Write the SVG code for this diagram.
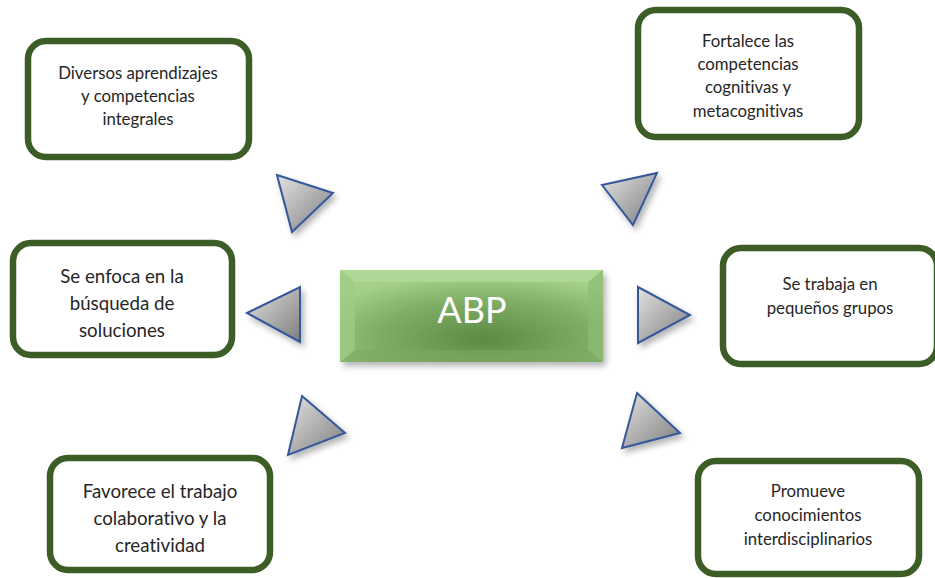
<svg xmlns="http://www.w3.org/2000/svg" width="935" height="578" viewBox="0 0 935 578">
<defs>
<style>
.box{fill:#ffffff;stroke:#3c5d25;stroke-width:6.5}
.t{font-family:Lato,"Liberation Sans",sans-serif;fill:#262626;text-anchor:middle;font-variant-ligatures:none;font-feature-settings:"liga" 0,"clig" 0,"dlig" 0,"calt" 0}
.tri{fill:url(#gtri);stroke:#34589a;stroke-width:2;stroke-linejoin:miter;filter:url(#sh)}
</style>
<linearGradient id="gtri" x1="0" y1="0" x2="1" y2="1">
<stop offset="0" stop-color="#e2e2e2"/>
<stop offset="1" stop-color="#7e7e7e"/>
</linearGradient>
<radialGradient id="gabp" cx="0.55" cy="0.75" r="0.7">
<stop offset="0" stop-color="#5c8a45"/>
<stop offset="0.6" stop-color="#80ae66"/>
<stop offset="1" stop-color="#a4d08a"/>
</radialGradient>
<filter id="sh" x="-30%" y="-30%" width="170%" height="170%">
<feGaussianBlur in="SourceAlpha" stdDeviation="3"/>
<feOffset dx="3" dy="4" result="b"/>
<feComponentTransfer><feFuncA type="linear" slope="0.3"/></feComponentTransfer>
<feMerge><feMergeNode/><feMergeNode in="SourceGraphic"/></feMerge>
</filter>
</defs>
<rect width="935" height="578" fill="#ffffff"/>

<g id="connectors">
<polygon class="tri" points="277,175 333,193 292,232"/>
<polygon class="tri" points="602,185 657,173 633,225"/>
<polygon class="tri" points="247,313 300,287 300,342"/>
<polygon class="tri" points="638,287 690,315 638,343"/>
<polygon class="tri" points="302,396 345,433 288,455"/>
<polygon class="tri" points="637,393 680,433 622,448"/>
</g>

<g id="abp">
<rect x="340" y="270" width="263" height="92" fill="url(#gabp)" filter="url(#sh)"/>
<polygon points="340,270 603,270 588,282 355,282" fill="#b4dc9c" opacity="0.7"/>
<polygon points="340,362 603,362 588,350 355,350" fill="#7aa862" opacity="0.6"/>
<polygon points="340,270 355,282 355,350 340,362" fill="#a0cc86" opacity="0.7"/>
<polygon points="603,270 588,282 588,350 603,362" fill="#8cbc72" opacity="0.7"/>
<text x="472" y="323" font-family="Lato,'Liberation Sans',sans-serif" font-size="36" fill="#ffffff" text-anchor="middle">ABP</text>
</g>

<g id="n1">
<rect class="box" x="28" y="41" width="221" height="116" rx="18"/>
<text class="t" font-size="16.8"><tspan x="138" y="79">Diversos aprendizajes</tspan><tspan x="138" y="102">y competencias</tspan><tspan x="138" y="125">integrales</tspan></text>
</g>

<g id="n2">
<rect class="box" x="638" y="10" width="221" height="127" rx="18"/>
<text class="t" font-size="16.8"><tspan x="748" y="47">Fortalece las</tspan><tspan x="748" y="70">competencias</tspan><tspan x="748" y="93">cognitivas y</tspan><tspan x="748" y="117">metacognitivas</tspan></text>
</g>

<g id="n3">
<rect class="box" x="13" y="243" width="219" height="112" rx="18"/>
<text class="t" font-size="18.7"><tspan x="122" y="283">Se enfoca en la</tspan><tspan x="122" y="310">búsqueda de</tspan><tspan x="122" y="337">soluciones</tspan></text>
</g>

<g id="n4">
<rect class="box" x="723" y="248" width="214" height="116" rx="18"/>
<text class="t" font-size="16.8"><tspan x="830" y="290">Se trabaja en</tspan><tspan x="830" y="314">pequeños grupos</tspan></text>
</g>

<g id="n5">
<rect class="box" x="50" y="458" width="220" height="112" rx="18"/>
<text class="t" font-size="18.7"><tspan x="160" y="498">Favorece el trabajo</tspan><tspan x="160" y="525">colaborativo y la</tspan><tspan x="160" y="552">creatividad</tspan></text>
</g>

<g id="n6">
<rect class="box" x="698" y="461" width="221" height="113" rx="18"/>
<text class="t" font-size="16.8"><tspan x="808" y="497">Promueve</tspan><tspan x="808" y="521">conocimientos</tspan><tspan x="808" y="545">interdisciplinarios</tspan></text>
</g>
</svg>
